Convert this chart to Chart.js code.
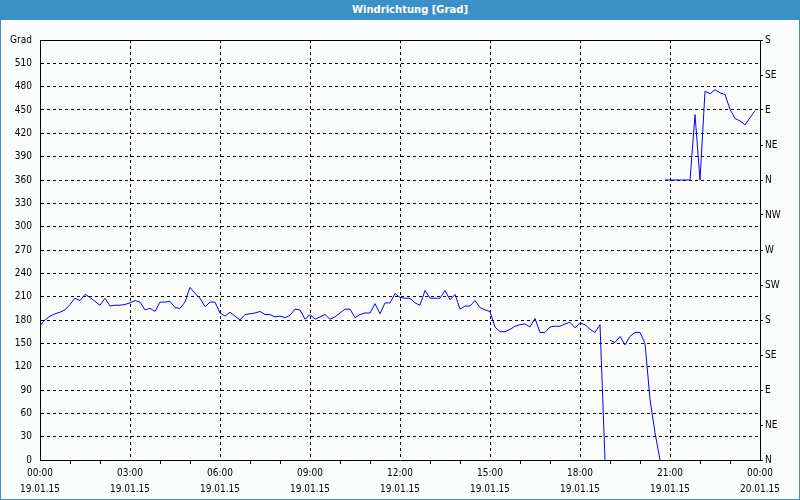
<!DOCTYPE html>
<html>
<head>
<meta charset="utf-8">
<script src="https://cdn.jsdelivr.net/npm/chart.js@4"></script>
<style>
  html, body { margin: 0; padding: 0; background: #fbfdfd; }
  #wrap { position: relative; width: 800px; height: 500px; overflow: hidden; }
  #title { position: absolute; left: 0; top: 0; width: 800px; height: 20px; background: #3c90c8;
    color: #fff; font: bold 10px "DejaVu Sans", sans-serif; line-height: 20px; text-align: center;
    box-sizing: border-box; padding-left: 20px; }
  #frame { position: absolute; left: 0; top: 0; width: 800px; height: 500px; box-sizing: border-box;
    border: 1px solid #3c90c8; pointer-events: none; }
  canvas { position: absolute; left: 0; top: 0; }
</style>
</head>
<body>
<div id="wrap">
  <canvas id="c" width="800" height="500"></canvas>
  <div id="title">Windrichtung [Grad]</div>
  <div id="frame"></div>
</div>
<script>
// ---- data (10-minute samples from 19.01.15 00:00) ----
const STEP_MIN = 10;
const windDir = [
  173,180,185,188,190,193,200,208,205,213,
  209,204,199,208,198,199,199,200,202,205,
  203,193,195,191,203,203,204,196,195,203,
  222,214,208,197,203,203,189,185,190,185,
  180,187,188,189,191,187,187,184,185,183,
  186,194,193,181,187,181,184,187,181,184,
  189,194,194,183,187,189,189,201,188,202,
  202,214,209,208,208,202,199,218,208,208,
  208,218,206,213,194,198,198,205,196,193,
  191,171,165,165,168,172,174,175,171,182,
  164,164,171,172,172,175,177,170,176,174,
  168,164,174,0,154,151,159,148,159,164,
  164,150,78,35,0,360,360,360,360,360,
  360,444,360,474,471,476,472,470,451,439,
  436,431,440,449
];
const xTickLabels = [
  ['00:00','19.01.15'], ['03:00','19.01.15'], ['06:00','19.01.15'], ['09:00','19.01.15'],
  ['12:00','19.01.15'], ['15:00','19.01.15'], ['18:00','19.01.15'], ['21:00','19.01.15'],
  ['00:00','20.01.15']
];
const dirLabels = ['N','NE','E','SE','S','SW','W','NW','N','NE','E','SE','S'];
const yTopLabel = 'Grad';

const points = windDir.map((v, i) => ({ x: i * STEP_MIN, y: v }));
const FONT = { family: '"DejaVu Sans Condensed", "DejaVu Sans", sans-serif', size: 10 };
const XFONT = { family: '"DejaVu Sans Condensed", "DejaVu Sans", sans-serif', size: 10, lineHeight: 1.6 };

new Chart(document.getElementById('c'), {
  type: 'line',
  data: {
    datasets: [{
      data: points,
      borderColor: '#0000ff',
      borderWidth: 1,
      pointRadius: 0,
      tension: 0,
      fill: false,
      segment: {
        borderColor: c => (c.p0.parsed.y === 0 ? 'rgba(0,0,0,0)' : undefined)
      }
    }]
  },
  options: {
    responsive: false,
    animation: false,
    events: [],
    layout: { padding: 0 },
    plugins: { legend: { display: false }, tooltip: { enabled: false } },
    scales: {
      x: {
        type: 'linear', position: 'bottom', min: 0, max: 1440,
        afterFit: s => { s.height = 40; },
        ticks: {
          stepSize: 60, autoSkip: false, maxRotation: 0, color: '#000', font: XFONT, padding: 1,
          callback: v => (v % 180 === 0 ? xTickLabels[v / 180] : '')
        },
        grid: {
          color: c => (c.tick && c.tick.value % 180 === 0 ? '#000' : 'rgba(0,0,0,0)'),
          tickColor: c => (c.tick && c.tick.value % 180 === 0 ? 'rgba(0,0,0,0)' : '#000'),
          tickLength: 4, lineWidth: 1
        },
        border: { display: true, color: '#000', width: 1, dash: [3, 3] }
      },
      x2: {
        type: 'linear', position: 'top', min: 0, max: 1440,
        afterFit: s => { s.height = 40; },
        ticks: { display: false },
        grid: { display: false },
        border: { display: true, color: '#000', width: 1 }
      },
      y: {
        type: 'linear', position: 'left', min: 0, max: 540,
        afterFit: s => { s.width = 40; },
        ticks: {
          stepSize: 30, color: '#000', font: FONT, padding: 8,
          callback: v => (v === 540 ? yTopLabel : String(v))
        },
        grid: { color: '#000', drawTicks: false, lineWidth: 1 },
        border: { display: true, color: '#000', width: 1, dash: [3, 3] }
      },
      y2: {
        type: 'linear', position: 'right', min: 0, max: 540,
        afterFit: s => { s.width = 40; },
        ticks: {
          stepSize: 45, color: '#000', font: FONT, padding: 2,
          callback: v => dirLabels[Math.round(v / 45)]
        },
        grid: { drawOnChartArea: false, tickLength: 3, tickColor: '#000' },
        border: { display: true, color: '#000', width: 1 }
      }
    }
  }
});
</script>
</body>
</html>
